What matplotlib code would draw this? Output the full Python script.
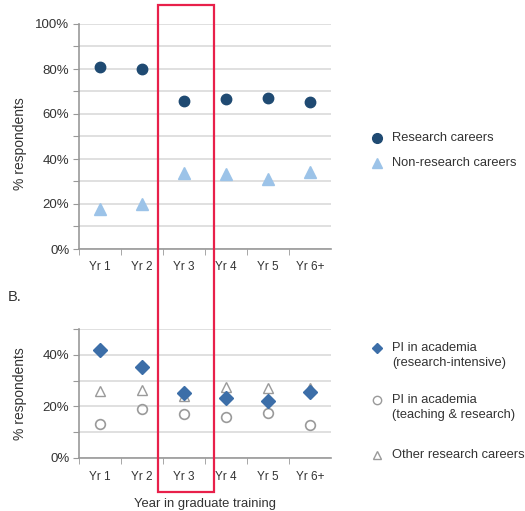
import matplotlib
matplotlib.use("Agg")
import matplotlib.pyplot as plt
from matplotlib.lines import Line2D
from matplotlib.patches import Rectangle
from matplotlib.ticker import MultipleLocator, FuncFormatter

plt.rcParams['font.family'] = ['Liberation Sans', 'DejaVu Sans']

years = ['Yr 1', 'Yr 2', 'Yr 3', 'Yr 4', 'Yr 5', 'Yr 6+']

# panel A
research = [80.9, 79.9, 65.8, 66.6, 67.0, 65.5]
non_research = [17.8, 19.8, 33.9, 33.2, 30.9, 34.2]

# panel B
pi_intensive = [41.7, 35.1, 25.1, 23.1, 22.2, 25.5]
pi_teaching = [13.0, 18.8, 17.0, 16.0, 17.3, 12.9]
other_research = [26.1, 26.2, 23.9, 27.6, 27.3, 27.0]

navy = '#1f4a72'
light = '#9cc3e8'
diam = '#3c6ea8'
grey = '#9a9a9a'
txt = '#333333'
W, H = 525, 511

fig = plt.figure(figsize=(5.25, 5.11), dpi=100)
axA = fig.add_axes([79 / W, 1 - 249 / H, 252 / W, 225 / H])
axB = fig.add_axes([79 / W, 1 - 458 / H, 252 / W, 129 / H])

x = list(range(len(years)))


def style(ax, top):
    ax.set_xlim(-0.5, len(years) - 0.5)
    ax.set_ylim(0, top)
    ax.yaxis.set_major_locator(MultipleLocator(10))
    ax.yaxis.set_major_formatter(FuncFormatter(
        lambda v, p: '%d%%' % v if round(v) % 20 == 0 else ''))
    ax.set_xticks(x)
    ax.set_xticklabels(years)
    ax.set_xticks([i + 0.5 for i in x[:-1]] + [-0.5], minor=True)
    ax.tick_params(axis='x', which='major', length=0, pad=9, labelsize=8.5, labelcolor=txt)
    ax.tick_params(axis='x', which='minor', length=4, color='#999999', direction='out')
    ax.tick_params(axis='y', length=4, color='#999999', pad=3, labelsize=9.5, labelcolor=txt)
    ax.grid(axis='y', color='#dadada', linewidth=1.2)
    ax.set_axisbelow(True)
    for s in ['top', 'right']:
        ax.spines[s].set_visible(False)
    for s in ['left', 'bottom']:
        ax.spines[s].set_color('#999999')
        ax.spines[s].set_linewidth(1.2)
    ax.set_ylabel('% respondents', fontsize=10, color=txt)


style(axA, 100)
style(axB, 50)
axA.yaxis.set_label_coords(-0.205, 0.47)
axB.yaxis.set_label_coords(-0.205, 0.5)

axA.plot(x, research, 'o', color=navy, ms=7.5, clip_on=False)
axA.plot(x, non_research, '^', color=light, ms=9, clip_on=False)

axB.plot(x, other_research, '^', mfc='none', mec=grey, ms=7, mew=1)
axB.plot(x, pi_teaching, 'o', mfc='none', mec=grey, ms=7, mew=1.2)
axB.plot(x, pi_intensive, 'D', color=diam, ms=7)

axB.set_xlabel('Year in graduate training', fontsize=9.4, color=txt, labelpad=11)

fig.text(8 / W, 1 - 297 / H, 'B.', fontsize=10.5, color=txt, va='center')

# legends, drawn in figure space so the markers sit on the first text line
entries = [
    (138, 'o', 'Research careers', dict(color=navy, ms=7)),
    (163, '^', 'Non-research careers', dict(color=light, ms=7)),
    (348, 'D', 'PI in academia\n(research-intensive)', dict(color=diam, ms=5)),
    (400, 'o', 'PI in academia\n(teaching & research)', dict(mfc='none', mec=grey, ms=6, mew=1)),
    (455, '^', 'Other research careers', dict(mfc='none', mec=grey, ms=6, mew=1)),
]
for yy, mk, label, kw in entries:
    fig.add_artist(Line2D([377 / W], [1 - yy / H], marker=mk, linestyle='none',
                          transform=fig.transFigure, **kw))
    fig.text(392 / W, 1 - (yy - 6) / H, label, fontsize=9.3, color=txt, va='top',
             linespacing=1.3)

fig.add_artist(Rectangle((158 / W, 1 - 492 / H), 56 / W, 487 / H, transform=fig.transFigure,
                         fill=False, edgecolor='#e8204a', linewidth=1.6))

fig.savefig('out.png', dpi=100)
